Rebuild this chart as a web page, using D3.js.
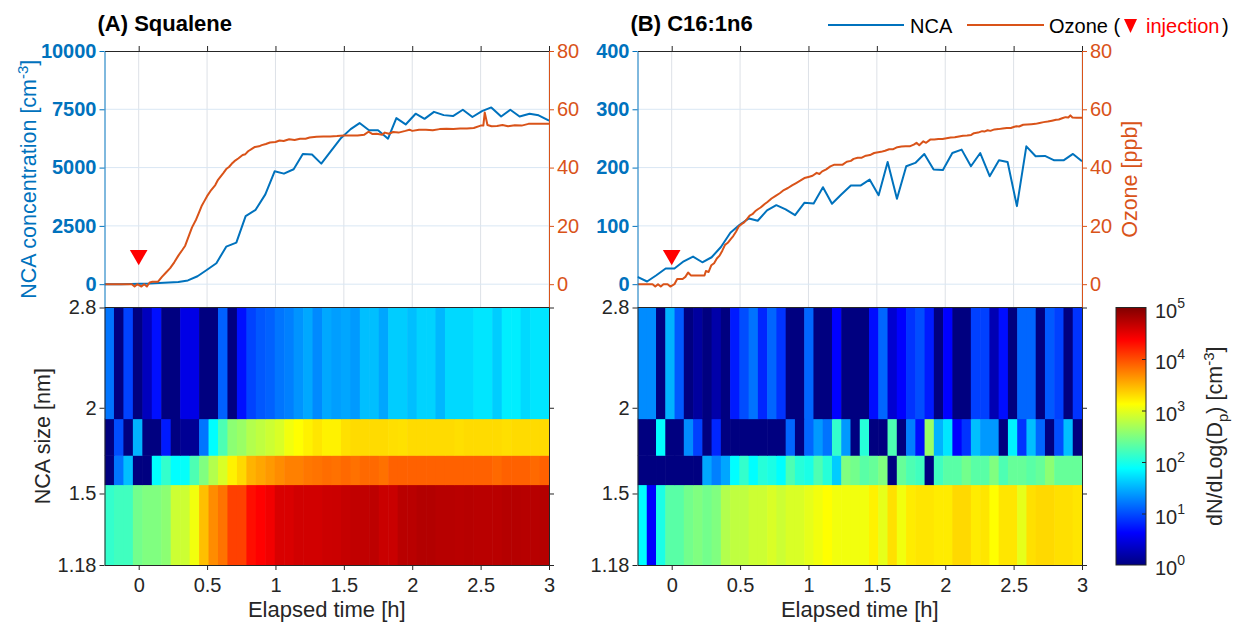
<!DOCTYPE html>
<html>
<head>
<meta charset="utf-8">
<script src="https://cdn.jsdelivr.net/npm/d3@7"></script>
<style>
  body { margin: 0; background: #fff; }
  svg { display: block; font-family: "Liberation Sans", Arial, sans-serif; }
</style>
</head>
<body>
<div id="chart"></div>
<script>
// ─── DATA ───────────────────────────────────────────────
const timeTicks = [0, 0.5, 1, 1.5, 2, 2.5, 3];
const ozoneTicks = [0, 20, 40, 60, 80];
const ncaTicksA = [0, 2500, 5000, 7500, 10000];
const ncaTicksB = [0, 100, 200, 300, 400];
const sizeTicks = [1.18, 1.5, 2, 2.8];
const sizeEdges = [1.18, 1.546, 1.706, 1.929, 2.8];   // bin edges of the 4 size channels [nm]
const cbExponents = [0, 1, 2, 3, 4, 5];
const injectionTime = 0, injectionOzone = 10;

// NCA concentration [cm-3]
const ncaTimeA = [-0.25,-0.2,-0.13,-0.06,0.01,0.08,0.15,0.22,0.29,0.36,0.43,0.5,0.568,0.64,0.714,0.782,0.855,0.926,0.994,1.062,
  1.133,1.2,1.267,1.335,1.408,1.48,1.55,1.615,1.684,1.75,1.823,1.884,1.952,2.025,2.09,2.159,2.23,2.298,2.37,2.44,
  2.51,2.578,2.65,2.717,2.785,2.858,2.924,3.0];
const ncaA = [0,0,0,10,20,30,50,70,90,160,340,620,900,1610,1780,2920,3190,3850,4840,4740,
  4930,5580,5560,5170,5730,6270,6650,6910,6600,6600,6240,7120,6850,7310,7090,7390,7250,7210,7480,7170,
  7420,7580,7190,7480,7190,7310,7240,7010];

const ncaTimeB = [-0.25,-0.18,-0.112,-0.044,0.02,0.088,0.156,0.224,0.292,0.36,0.429,0.497,0.565,0.629,0.697,0.765,0.833,0.902,0.97,1.038,
  1.106,1.172,1.24,1.31,1.38,1.447,1.513,1.579,1.647,1.715,1.781,1.847,1.915,1.983,2.052,2.12,2.188,2.256,2.325,2.393,
  2.456,2.524,2.593,2.661,2.729,2.797,2.865,2.934,3.0];
const ncaB = [12.5,4.6,15.4,26.8,26.8,39.3,47.3,37.6,46.2,63.8,88.3,102,112.8,108.8,126.5,135.6,128.2,118.5,139.6,138.5,
  166.4,137.9,153.8,169.2,169.2,179.5,152.7,209.7,146.4,202.3,208,223.4,196.6,196,225,230.8,202.3,225,185.2,212.5,
  209.7,133.9,236.5,219.4,220,212.5,212.5,223.4,210.8];

// Ozone [ppb] as [time h, ppb]
const ozoneA = [[-0.25,0],[-0.05,0],[-0.03,-0.8],[-0.01,0],[0.02,-0.8],[0.04,0],[0.06,-0.8],[0.08,0.6],[0.1,0.8],[0.14,0.8],
  [0.17,2.5],[0.2,4],[0.23,5.5],[0.26,7.5],[0.29,9.8],[0.32,11.8],[0.34,13.2],[0.37,17],[0.39,19.5],[0.42,22.2],
  [0.44,24.5],[0.46,26.8],[0.48,28.5],[0.5,30.2],[0.53,32.3],[0.56,34],[0.58,35.8],[0.6,37],[0.62,38.2],[0.64,39.5],
  [0.66,40.2],[0.68,41.3],[0.7,42.2],[0.73,43.2],[0.76,44.3],[0.78,44.6],[0.8,45.6],[0.83,46.5],[0.85,47.1],[0.88,47.3],
  [0.9,47.7],[0.93,48.1],[0.96,48.6],[1.0,48.8],[1.03,49.3],[1.06,49.1],[1.1,49.7],[1.14,49.5],[1.18,49.9],[1.22,49.9],
  [1.25,50.3],[1.3,50.6],[1.35,50.7],[1.4,50.7],[1.45,50.8],[1.5,51],[1.55,51],[1.6,51],[1.65,51.3],[1.68,52.3],
  [1.71,51.5],[1.74,51.6],[1.78,51.3],[1.8,52],[1.83,51.6],[1.86,52.2],[1.9,52],[1.95,52.6],[1.98,53],[2.0,52.6],
  [2.05,53],[2.1,53],[2.15,52.8],[2.2,53.2],[2.25,53.3],[2.3,53.2],[2.35,53.4],[2.4,53.4],[2.45,53.6],[2.5,54.4],
  [2.52,54.4],[2.53,58.9],[2.55,54.6],[2.58,54.2],[2.62,54.3],[2.66,54.6],[2.7,54.2],[2.75,54.5],[2.8,54.4],[2.85,55],
  [2.9,55],[2.95,55],[3.0,55]];
const ozoneB = [[-0.25,0],[-0.14,0],[-0.12,-0.8],[-0.1,0],[-0.08,-0.8],[-0.06,0],[-0.03,0],[-0.01,-0.8],[0.02,0],[0.04,1.8],
  [0.08,1.8],[0.1,2.5],[0.12,4],[0.14,3],[0.2,3],[0.24,3],[0.25,4.5],[0.27,4.2],[0.29,6.5],[0.31,7.2],
  [0.33,8.8],[0.35,9.8],[0.37,11.5],[0.39,13.5],[0.41,14.2],[0.43,15.4],[0.45,16.5],[0.47,18],[0.49,19.8],[0.51,20.6],
  [0.53,21.2],[0.55,22.3],[0.57,23.5],[0.59,24],[0.61,25],[0.63,25.7],[0.65,26.3],[0.68,27.5],[0.7,28.2],[0.73,29.4],
  [0.76,30.3],[0.79,31.2],[0.82,32.3],[0.85,33],[0.88,33.9],[0.91,34.7],[0.94,35.5],[0.97,36.4],[1.0,36.8],[1.03,37.2],
  [1.06,38.2],[1.08,37.8],[1.1,38.7],[1.13,39.4],[1.16,40.4],[1.19,41],[1.22,41],[1.25,41],[1.28,42],[1.31,42.3],
  [1.33,43],[1.36,43.4],[1.39,43.4],[1.42,44.1],[1.45,44.3],[1.48,45],[1.5,45.2],[1.53,45.4],[1.56,45.8],[1.59,46.3],
  [1.62,46.3],[1.65,47],[1.68,47.2],[1.71,47.3],[1.74,47.3],[1.77,47.9],[1.79,48.5],[1.81,47.7],[1.84,49],[1.86,48.5],
  [1.89,49.6],[1.92,49.6],[1.95,49.8],[1.98,49.8],[2.01,50.1],[2.04,50.3],[2.07,50.4],[2.1,50.7],[2.13,50.9],[2.16,51],
  [2.19,51.2],[2.21,51.8],[2.24,52],[2.27,52.5],[2.29,52.4],[2.31,52.8],[2.33,52.6],[2.36,53.1],[2.39,53.2],[2.42,53.4],
  [2.45,53.6],[2.48,53.6],[2.5,53.9],[2.52,54.2],[2.54,54.1],[2.57,54.7],[2.6,54.8],[2.63,54.9],[2.66,55],[2.69,55.3],
  [2.72,55.6],[2.75,55.8],[2.78,56.1],[2.81,56.4],[2.83,56.5],[2.86,57],[2.88,57.3],[2.9,57.2],[2.915,57.9],[2.93,57.2],
  [2.96,57.1],[3.0,57.1]];

// log10 dN/dlogDp, one row per size bin (smallest first), equal time columns over -0.25 .. 3 h
const heatA = [
  [2.125,2.19,2.19,2.44,2.5,2.5,2.56,2.875,2.875,3.06,3.44,3.69,3.81,4.06,4.06,4.31,4.375,4.44,4.56,4.56,
   4.6,4.6,4.6,4.625,4.63,4.66,4.68,4.68,4.7,4.64,4.64,4.72,4.72,4.75,4.75,4.73,4.73,4.72,4.73,4.72,
   4.72,4.72,4.74,4.74,4.73,4.73,4.74],
  [0,1.2,1.56,0,0,1.875,2.125,1.875,1.9,2.25,2.5,2.75,2.94,3.19,3.31,3.5,3.56,3.625,3.69,3.75,
   3.75,3.79,3.81,3.84,3.82,3.86,3.82,3.86,3.86,3.82,3.9,3.9,3.9,3.9,3.9,3.9,3.9,3.9,3.9,3.9,
   3.9,3.86,3.9,3.9,3.9,3.86,3.9],
  [0,1.0,0,1.5,0,0,0.75,0,0.1,0.1,1.2,1.875,2.25,2.56,2.63,2.75,2.81,2.875,2.94,3.06,
   3.125,3.19,3.25,3.19,3.19,3.275,3.3,3.3,3.3,3.3,3.28,3.27,3.3,3.3,3.3,3.3,3.3,3.28,3.3,3.3,
   3.3,3.3,3.28,3.3,3.3,3.3,3.3],
  [1.2,0,0.95,0,0.3,0.7,0,0,0.5,0.5,0,0,1.1,0,0.7,0.95,1.05,1.1,1.2,1.25,
   1.35,1.45,1.3,1.45,1.4,1.44,1.38,1.56,1.56,1.44,1.63,1.63,1.56,1.66,1.66,1.52,1.69,1.69,1.69,1.75,
   1.75,1.63,1.79,1.79,1.69,1.75,1.75]
];
const heatB = [
  [1.875,0.625,2.0,2.31,2.31,2.44,2.5,2.44,2.5,2.75,2.81,2.81,2.875,2.875,2.94,2.875,2.94,2.94,3.0,3.06,
   3.125,3.06,3.06,3.06,3.06,3.19,3.0,3.275,3.06,3.22,3.25,3.25,3.22,3.22,3.31,3.31,3.22,3.25,3.125,3.25,
   3.25,3.0,3.275,3.31,3.31,3.275,3.275,3.25],
  [0,0,0,0,0,0,0,1.44,1.25,1.44,1.875,2.125,1.875,2.06,2.0,1.875,2.25,2.06,2.0,2.25,
   2.06,1.625,2.5,2.44,2.31,2.375,2.5,0,2.375,2.25,2.19,0,2.19,2.31,2.31,2.44,2.31,2.31,2.5,2.25,
   2.375,2.375,2.31,2.375,2.56,2.375,2.375,2.375],
  [0,0,1.875,0,0,1.31,0.94,0,0.81,0,0,0,0,0,0,0,1.125,0,1.125,1.375,
   1.19,2.125,1.375,0,2.06,0,0,2.25,0,1.25,0.69,2.625,1.5,1.75,0.625,0.875,1.56,1.375,1.375,0,
   1.81,0.875,1.56,1.125,0,1.0,1.56,0],
  [1.31,1.31,0,1.5,1.06,0,0.15,0,0.2,0,0.75,1.0,1.19,0.81,1.125,0.875,0,0,1.125,0,
   0,0.625,0,0,0,0.69,1.125,0.4,0.625,0.875,1.0,0.75,0,0.625,0,0,0.94,0.94,0.25,0.69,
   0,1.125,1.125,0,1.06,0.94,0,0.875]
];

// ─── SETUP ──────────────────────────────────────────────
const W = 1237, H = 624;
const blue = "#0072BD", orange = "#D95319", axisCol = "#262626", red = "#FF0000";
const topY0 = 51, topY1 = 307.5, hmY0 = 307.5, hmY1 = 565;
const fs = 20;        // tick labels, legend
const labelFs = 21.5; // axis labels
const titleFs = 22;

const jet = d3.scaleLinear()
  .domain([0, 0.625, 1.875, 3.125, 4.375, 5])
  .range(["#000080", "#0000ff", "#00ffff", "#ffff00", "#ff0000", "#800000"])
  .clamp(true);

const svg = d3.select("#chart").append("svg").attr("width", W).attr("height", H);
const defs = svg.append("defs");

const panels = [
  { id: "A", title: "(A) Squalene", x0: 104.5, x1: 549, ncaDomain: [-1000, 10000], ncaTicks: ncaTicksA,
    ncaTime: ncaTimeA, nca: ncaA, ozone: ozoneA, heat: heatA, showNcaLabel: true, showOzoneLabel: false },
  { id: "B", title: "(B) C16:1n6", x0: 637.5, x1: 1082, ncaDomain: [-40, 400], ncaTicks: ncaTicksB,
    ncaTime: ncaTimeB, nca: ncaB, ozone: ozoneB, heat: heatB, showNcaLabel: false, showOzoneLabel: true }
];

function styleAxis(sel, color, fontWeight) {
  sel.select(".domain").attr("stroke", color).attr("stroke-width", 1);
  sel.selectAll(".tick line").attr("stroke", color).attr("stroke-width", 1);
  sel.selectAll(".tick text").attr("fill", color).attr("font-size", fs)
    .attr("font-weight", fontWeight || "normal");
  sel.attr("font-family", null);
}

function drawPanel(p) {
  const g = svg.append("g");
  const x = d3.scaleLinear().domain([-0.25, 3]).range([p.x0, p.x1]);
  const yN = d3.scaleLinear().domain(p.ncaDomain).range([topY1, topY0]);
  const yO = d3.scaleLinear().domain([-8, 80]).range([topY1, topY0]);
  const yS = d3.scaleLog().domain([1.18, 2.8]).range([hmY1, hmY0]);

  // grid of the upper plot
  g.append("g").selectAll("line").data(timeTicks).join("line")
    .attr("x1", d => x(d)).attr("x2", d => x(d)).attr("y1", topY0).attr("y2", topY1)
    .attr("stroke", "#dde1e7");
  g.append("g").selectAll("line").data(p.ncaTicks.slice(0, -1)).join("line")
    .attr("x1", p.x0).attr("x2", p.x1).attr("y1", d => yN(d)).attr("y2", d => yN(d))
    .attr("stroke", "#d9e7f4");

  defs.append("clipPath").attr("id", "clipTop" + p.id).append("rect")
    .attr("x", p.x0).attr("y", topY0).attr("width", p.x1 - p.x0).attr("height", topY1 - topY0);
  defs.append("clipPath").attr("id", "clipHm" + p.id).append("rect")
    .attr("x", p.x0).attr("y", hmY0).attr("width", p.x1 - p.x0).attr("height", hmY1 - hmY0);

  const lines = g.append("g").attr("clip-path", `url(#clipTop${p.id})`);
  const ncaPts = p.ncaTime.map((t, i) => [t, p.nca[i]]);
  lines.append("path").datum(ncaPts)
    .attr("d", d3.line().x(d => x(d[0])).y(d => yN(d[1])))
    .attr("fill", "none").attr("stroke", blue).attr("stroke-width", 2).attr("stroke-linejoin", "round");
  lines.append("path").datum(p.ozone)
    .attr("d", d3.line().x(d => x(d[0])).y(d => yO(d[1])))
    .attr("fill", "none").attr("stroke", orange).attr("stroke-width", 2).attr("stroke-linejoin", "round");

  // injection marker
  g.append("path")
    .attr("d", d3.symbol(d3.symbolTriangle, 135)())
    .attr("transform", `translate(${x(injectionTime)},${yO(injectionOzone)}) rotate(180)`)
    .attr("fill", red);

  // axes of the upper plot
  g.append("g").attr("transform", `translate(0,${topY0})`)
    .call(d3.axisTop(x).tickValues(timeTicks).tickFormat("").tickSize(5).tickSizeOuter(0))
    .call(s => styleAxis(s, axisCol));
  g.append("g").attr("transform", `translate(${p.x0},0)`)
    .call(d3.axisLeft(yN).tickValues(p.ncaTicks).tickFormat(d => d).tickSize(5).tickSizeOuter(0).tickPadding(3))
    .call(s => styleAxis(s, blue, "bold"));
  g.append("g").attr("transform", `translate(${p.x1},0)`)
    .call(d3.axisRight(yO).tickValues(ozoneTicks).tickSize(5).tickSizeOuter(0).tickPadding(3))
    .call(s => styleAxis(s, orange));

  // heatmap
  const hm = g.append("g").attr("clip-path", `url(#clipHm${p.id})`);
  const nCols = p.heat[0].length;
  const step = 3.25 / nCols;
  p.heat.forEach((row, r) => {
    hm.append("g").selectAll("rect").data(row).join("rect")
      .attr("x", (d, i) => x(-0.25 + i * step))
      .attr("width", (d, i) => x(-0.25 + (i + 1) * step) - x(-0.25 + i * step) + 0.6)
      .attr("y", yS(sizeEdges[r + 1]))
      .attr("height", yS(sizeEdges[r]) - yS(sizeEdges[r + 1]) + 0.6)
      .attr("fill", d => jet(d));
  });

  g.append("line").attr("x1", p.x0).attr("x2", p.x1).attr("y1", hmY0).attr("y2", hmY0)
    .attr("stroke", axisCol);
  g.append("g").attr("transform", `translate(${p.x0},0)`)
    .call(d3.axisLeft(yS).tickValues(sizeTicks).tickFormat(d => d).tickSize(5).tickSizeOuter(0).tickPadding(3))
    .call(s => styleAxis(s, axisCol));
  g.append("g").attr("transform", `translate(${p.x1},0)`)
    .call(d3.axisRight(yS).tickValues(sizeTicks).tickFormat("").tickSize(5).tickSizeOuter(0))
    .call(s => styleAxis(s, axisCol));
  g.append("g").attr("transform", `translate(0,${hmY1})`)
    .call(d3.axisBottom(x).tickValues(timeTicks).tickFormat(d => d).tickSize(5).tickSizeOuter(0).tickPadding(8))
    .call(s => styleAxis(s, axisCol));

  // texts
  g.append("text").attr("x", (p.x0 + p.x1) / 2).attr("y", 617).attr("text-anchor", "middle")
    .attr("font-size", titleFs).attr("fill", axisCol).text("Elapsed time [h]");
  g.append("text").attr("x", p.x0 - 7).attr("y", 31).attr("font-size", titleFs).attr("font-weight", "bold")
    .attr("fill", "#000").text(p.title);

  if (p.showNcaLabel) {
    g.append("text").attr("transform", `translate(36,${(topY0 + topY1) / 2}) rotate(-90)`)
      .attr("text-anchor", "middle").attr("font-size", labelFs).attr("fill", blue)
      .call(t => {
        t.append("tspan").text("NCA concentration [cm");
        t.append("tspan").attr("dy", -8).attr("font-size", 15).text("-3");
        t.append("tspan").attr("dy", 8).text("]");
      });
    g.append("text").attr("transform", `translate(50,${(hmY0 + hmY1) / 2}) rotate(-90)`)
      .attr("text-anchor", "middle").attr("font-size", labelFs).attr("fill", axisCol).text("NCA size [nm]");
  }
  if (p.showOzoneLabel) {
    g.append("text").attr("transform", `translate(${p.x1 + 55},${(topY0 + topY1) / 2}) rotate(-90)`)
      .attr("text-anchor", "middle").attr("font-size", labelFs).attr("fill", orange).text("Ozone [ppb]");
  }
}

panels.forEach(drawPanel);

// ─── COLORBAR ───────────────────────────────────────────
const cbX0 = 1116, cbX1 = 1146;
const yC = d3.scaleLinear().domain([0, 5]).range([hmY1, hmY0]);
const grad = defs.append("linearGradient").attr("id", "jetGrad")
  .attr("x1", 0).attr("y1", 1).attr("x2", 0).attr("y2", 0);
grad.selectAll("stop").data(jet.domain()).join("stop")
  .attr("offset", d => d / 5).attr("stop-color", d => jet(d));
svg.append("rect").attr("x", cbX0).attr("y", hmY0).attr("width", cbX1 - cbX0).attr("height", hmY1 - hmY0)
  .attr("fill", "url(#jetGrad)").attr("stroke", axisCol).attr("stroke-width", 1);
svg.append("g").attr("transform", `translate(${cbX1},0)`)
  .call(d3.axisRight(yC).tickValues(cbExponents.slice(1, -1)).tickFormat("").tickSize(-4).tickSizeOuter(0))
  .call(s => { s.select(".domain").remove(); s.selectAll(".tick line").attr("stroke", axisCol); });
svg.append("g").selectAll("text").data(cbExponents).join("text")
  .attr("x", 1155).attr("y", d => yC(d) + 10).attr("font-size", fs).attr("fill", axisCol)
  .call(t => {
    t.append("tspan").text("10");
    t.append("tspan").attr("dy", -10).attr("font-size", 14).text(d => d);
  });
svg.append("text").attr("transform", `translate(1222,${(hmY0 + hmY1) / 2}) rotate(-90)`)
  .attr("text-anchor", "middle").attr("font-size", labelFs).attr("fill", axisCol)
  .call(t => {
    t.append("tspan").text("dN/dLog(D");
    t.append("tspan").attr("dy", 6).attr("font-size", 15).text("p");
    t.append("tspan").attr("dy", -6).text(") [cm");
    t.append("tspan").attr("dy", -8).attr("font-size", 15).text("-3");
    t.append("tspan").attr("dy", 8).text("]");
  });

// ─── LEGEND ─────────────────────────────────────────────
const leg = svg.append("g");
leg.append("line").attr("x1", 828).attr("x2", 904).attr("y1", 25).attr("y2", 25).attr("stroke", blue).attr("stroke-width", 2);
leg.append("text").attr("x", 910).attr("y", 33).attr("font-size", fs).attr("fill", "#000").text("NCA");
leg.append("line").attr("x1", 967).attr("x2", 1044).attr("y1", 25).attr("y2", 25).attr("stroke", orange).attr("stroke-width", 2);
leg.append("text").attr("x", 1049).attr("y", 33).attr("font-size", fs).attr("fill", "#000").text("Ozone (");
leg.append("path").attr("d", "M1124,19L1137,19L1130.5,33Z").attr("fill", red);
leg.append("text").attr("x", 1146).attr("y", 33).attr("font-size", fs).attr("fill", red).text("injection");
leg.append("text").attr("x", 1222).attr("y", 33).attr("font-size", fs).attr("fill", "#000").text(")");
</script>
</body>
</html>
